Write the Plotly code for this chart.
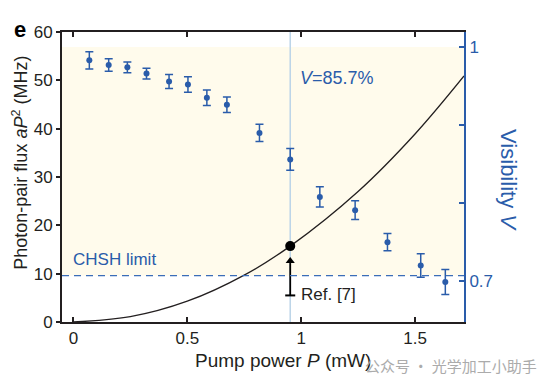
import plotly.graph_objects as go

# ---- data ----
pump_power = [0.070, 0.155, 0.237, 0.321, 0.420, 0.503, 0.586, 0.674, 0.817,
              0.952, 1.082, 1.237, 1.379, 1.525, 1.633]
visibility = [0.983, 0.977, 0.974, 0.966, 0.956, 0.952, 0.935, 0.926, 0.890,
              0.856, 0.808, 0.791, 0.750, 0.720, 0.699]
vis_err = [0.011, 0.008, 0.007, 0.007, 0.009, 0.010, 0.010, 0.010, 0.011,
           0.014, 0.013, 0.012, 0.011, 0.015, 0.016]

curve_p = [0.0, 0.25, 0.5, 0.75, 0.952, 1.25, 1.5, 1.715]
curve_flux = [0.0, 1.1, 4.3, 9.7, 15.7, 27.0, 38.9, 50.9]

marked_p = [0.952]
marked_flux = [15.7]
chsh_limit = 0.707
ref7_flux = [5.5]

x_ticks = [0, 0.5, 1, 1.5]
x_ticklabels = ["0", "0.5", "1", "1.5"]
y_ticks = [0, 10, 20, 30, 40, 50, 60]
v_ticks = [0.7, 1.0]
v_ticklabels = ["0.7", "1"]
v_minor_ticks = [0.8, 0.9]

BLUE = "#2A5CAA"
DASH_BLUE = "#3B6DB8"
DARK = "#231F20"
FONT = "Liberation Sans, Arial, Helvetica, sans-serif"

fig = go.Figure()

# theoretical curve aP^2
fig.add_trace(go.Scatter(x=curve_p, y=curve_flux, mode="lines",
                         line=dict(color=DARK, width=1.3, shape="spline"),
                         hoverinfo="skip", showlegend=False))
# arrow shaft (Ref. [7] -> marked point) and head
fig.add_trace(go.Scatter(x=[marked_p[0], marked_p[0]], y=[ref7_flux[0], 12.2], mode="lines",
                         line=dict(color="black", width=1.8), hoverinfo="skip", showlegend=False))
fig.add_trace(go.Scatter(x=marked_p, y=[12.6], mode="markers",
                         marker=dict(symbol="triangle-up", color="black", size=8),
                         hoverinfo="skip", showlegend=False))
# marked point
fig.add_trace(go.Scatter(x=marked_p, y=marked_flux, mode="markers",
                         marker=dict(color="black", size=10),
                         showlegend=False))
# visibility data
fig.add_trace(go.Scatter(x=pump_power, y=visibility, yaxis="y2", mode="markers",
                         marker=dict(color=BLUE, size=6),
                         error_y=dict(type="data", array=vis_err, color=BLUE,
                                      thickness=1.5, width=4),
                         showlegend=False))

# shaded region above CHSH limit (visibility coords)
fig.add_shape(type="rect", xref="paper", yref="y2", x0=0, x1=1, y0=chsh_limit, y1=1.0,
              fillcolor="#FFFBEC", line=dict(width=0), layer="below")
# vertical light-blue line
fig.add_shape(type="line", xref="x", yref="paper", x0=marked_p[0], x1=marked_p[0], y0=0, y1=1,
              line=dict(color="#BBD4E8", width=1.5), layer="below")
# CHSH dashed line
fig.add_shape(type="line", xref="paper", yref="y2", x0=0, x1=1, y0=chsh_limit, y1=chsh_limit,
              line=dict(color=DASH_BLUE, width=1.3, dash="7px,5px"))
# T bar at arrow tail
fig.add_shape(type="line", xref="x", yref="y", x0=0.93, x1=0.974, y0=ref7_flux[0], y1=ref7_flux[0],
              line=dict(color="black", width=2))

fig.add_annotation(x=0.99, y=5.6, xref="x", yref="y", text="Ref. [7]", showarrow=False,
                   xanchor="left", yanchor="middle", font=dict(size=17, color=DARK, family=FONT))
fig.add_annotation(x=0.985, y=50.5, xref="x", yref="y", text="<i>V</i>=85.7%", showarrow=False,
                   xanchor="left", yanchor="middle", font=dict(size=18, color=BLUE, family=FONT))
fig.add_annotation(x=-0.012, y=12.9, xref="x", yref="y", text="CHSH limit", showarrow=False,
                   xanchor="left", yanchor="middle", font=dict(size=17, color=BLUE, family=FONT))
fig.add_annotation(x=-0.125, y=1.01, xref="paper", yref="paper", text="<b>e</b>", showarrow=False,
                   xanchor="left", yanchor="middle", font=dict(size=22, color="black", family=FONT))
# axis titles
fig.add_annotation(x=-0.104, y=0.55, xref="paper", yref="paper",
                   text="Photon-pair flux <i>aP</i><sup>2</sup> (MHz)", showarrow=False,
                   textangle=-90, xanchor="center", yanchor="middle",
                   font=dict(size=18, color=DARK, family=FONT))
fig.add_annotation(x=0.55, y=-0.132, xref="paper", yref="paper",
                   text="Pump power <i>P</i> (mW)", showarrow=False,
                   xanchor="center", yanchor="middle",
                   font=dict(size=19, color=DARK, family=FONT))
fig.add_annotation(x=1.109, y=0.49, xref="paper", yref="paper", text="Visibility <i>V</i>",
                   showarrow=False, textangle=90, xanchor="center", yanchor="middle",
                   font=dict(size=22, color=BLUE, family=FONT))
# watermark
fig.add_annotation(x=0.968, y=-0.15, xref="paper", yref="paper", text="公众号 · 光学加工小助手",
                   showarrow=False, xanchor="center", yanchor="middle",
                   font=dict(size=15, color="#ABABAB", family="Noto Sans CJK SC"))

fig.update_layout(
    width=554, height=388,
    margin=dict(l=62, r=90, t=32, b=66, autoexpand=False),
    paper_bgcolor="white", plot_bgcolor="white",
    font=dict(family=FONT, color=DARK, size=17),
    xaxis=dict(range=[-0.05, 1.715], tickvals=x_ticks, ticktext=x_ticklabels,
               ticks="inside", ticklen=5, tickwidth=1.5, tickcolor=DARK,
               showline=True, linecolor=DARK, linewidth=2, mirror="ticks",
               showgrid=False, zeroline=False, automargin=False,
               tickfont=dict(size=17)),
    yaxis=dict(range=[0, 60], tickvals=y_ticks, ticks="outside", ticklen=4, tickwidth=1.5,
               tickcolor=DARK, showline=True, linecolor=DARK, linewidth=2,
               showgrid=False, zeroline=False, automargin=False,
               tickfont=dict(size=17)),
    yaxis2=dict(range=[0.6477, 1.0193], overlaying="y", side="right",
                tickvals=v_ticks, ticktext=v_ticklabels, ticks="inside", ticklen=5,
                tickwidth=1.5, tickcolor=BLUE, showline=True, linecolor=BLUE, linewidth=2,
                showgrid=False, zeroline=False, automargin=False,
                minor=dict(tickvals=v_minor_ticks, ticks="inside", ticklen=5,
                           tickwidth=1.5, tickcolor=BLUE, showgrid=False),
                tickfont=dict(size=17, color=BLUE)),
)

fig.write_html("out.html", config={"displayModeBar": False},
               post_script="document.body.style.margin='0';")
